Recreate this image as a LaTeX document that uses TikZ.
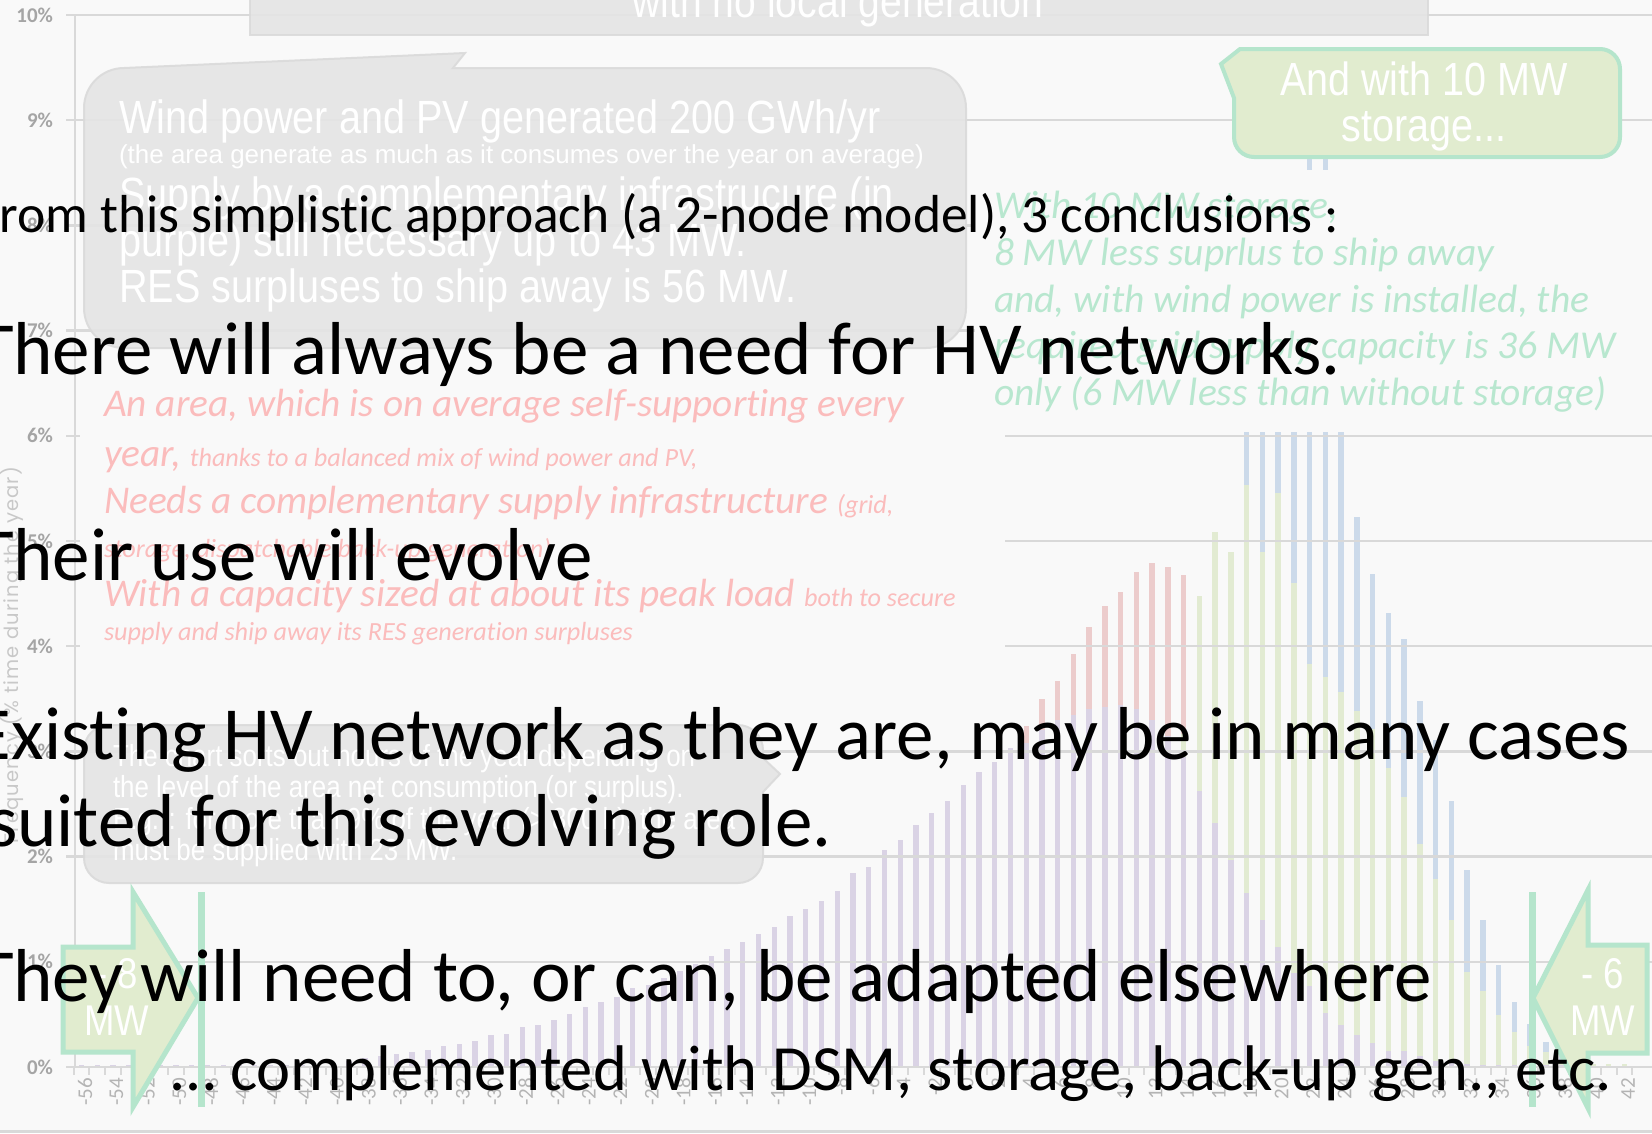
\documentclass[tikz,border=0pt]{standalone}
\usepackage{fontspec}
\setmainfont{Carlito}[Ligatures=NoCommon]
\newfontfamily\narrowf[FakeStretch=0.85]{Liberation Sans}
\newfontfamily\arialf{Liberation Sans}
\newfontfamily\popf[LetterSpace=6]{Poppins}
\definecolor{bgc}{RGB}{249,249,249}
\definecolor{gridc}{RGB}{217,217,217}
\definecolor{barP}{RGB}{218,211,229}
\definecolor{barR}{RGB}{236,204,204}
\definecolor{barG}{RGB}{226,235,210}
\definecolor{barB}{RGB}{204,218,234}
\definecolor{boxfill}{RGB}{229,229,229}
\definecolor{boxline}{RGB}{218,218,218}
\definecolor{mint}{RGB}{181,229,204}
\definecolor{lgreen}{RGB}{225,236,207}
\definecolor{redtxt}{RGB}{251,188,188}
\definecolor{grntxt}{RGB}{184,231,207}
\definecolor{ylabc}{RGB}{165,165,165}
\definecolor{xlabc}{RGB}{180,180,180}
\definecolor{titc}{RGB}{200,200,200}
\begin{document}
\begin{tikzpicture}[x=1pt,y=-1pt,
  every node/.style={inner sep=0pt,outer sep=0pt},
  bigtxt/.style={anchor=base west,text=black,font=\fontsize{75}{90}\selectfont},
  redl/.style={anchor=base west,text=redtxt,font=\itshape\fontsize{39.3}{46}\selectfont},
  grnl/.style={anchor=base west,text=grntxt,font=\itshape\fontsize{39.5}{46}\selectfont},
  whl/.style={anchor=base west,text=white,font=\narrowf\fontsize{46.6}{52}\selectfont},
  whs/.style={anchor=base west,text=white,font=\narrowf\fontsize{30.5}{34}\selectfont},
  graybox/.style={fill=boxfill,draw=boxline,line width=2pt,opacity=0.9},
  arrowbox/.style={fill=lgreen,draw=mint,line width=5pt,line join=miter},
  vline/.style={draw=mint,line width=7pt},
  ylab/.style={anchor=east,text=ylabc,font=\bfseries\fontsize{21}{22}\selectfont},
  xlab/.style={anchor=east,rotate=90,text=xlabc,font=\fontsize{21}{22}\selectfont},
  axisline/.style={draw=gridc,line width=2.5pt}]
\useasboundingbox (0,0) rectangle (1652,1133);
\fill[bgc] (0,0) rectangle (1652,1133);
% bars (back to front: blue, red, green, purple)
\foreach \v in {-56,...,-41}{
  \pgfmathsetmacro\xc{81.5+(\v+56)*15.745}
  \fill[barP] (\xc-2.7,1065) rectangle (\xc+2.7,1067);
}
\foreach \v/\p/\r/\g/\b in {
-40/0.04/0/0/0,-39/0.06/0/0/0,-38/0.09/0/0/0,-37/0.10/0/0/0,-36/0.12/0/0/0,
-35/0.14/0/0/0,-34/0.16/0/0/0,-33/0.20/0/0/0,-32/0.22/0/0/0,-31/0.25/0/0/0,
-30/0.30/0/0/0,-29/0.31/0/0/0,-28/0.38/0/0/0,-27/0.40/0/0/0,-26/0.45/0/0/0,
-25/0.50/0/0/0,-24/0.57/0/0/0,-23/0.62/0/0/0,-22/0.67/0/0/0,-21/0.75/0/0/0,
-20/0.78/0/0/0,-19/0.85/0/0/0,-18/0.91/0/0/0,-17/0.98/0/0/0,-16/1.06/0/0/0,
-15/1.12/0/0/0,-14/1.19/0/0/0,-13/1.26/0/0/0,-12/1.33/0/0/0,-11/1.44/0/0/0,
-10/1.50/0/0/0,-9/1.58/0/0/0,-8/1.67/0/0/0,-7/1.84/0/0/0,-6/1.90/0/0/0,
-5/2.06/0/0/0,-4/2.16/0/0/0,-3/2.30/0/0/0,-2/2.41/0/0/0,-1/2.53/0/0/0,
0/2.68/0/0/0,1/2.80/0/0/0,2/2.90/0/0/0,3/3.03/0/0/0,
4/3.08/3.24/0/0,5/3.20/3.50/0/0,6/3.30/3.67/0/0,7/3.35/3.93/0/0,8/3.40/4.18/0/0,
9/3.42/4.38/0/0,10/3.44/4.52/0/0,11/3.40/4.71/0/0,12/3.30/4.79/0/0,13/3.15/4.75/0/0,
14/2.95/4.68/3.17/0,15/2.62/0/4.48/0,16/2.32/0/5.09/0,17/1.97/0/4.90/0,
18/1.65/0/5.53/7.2,19/1.40/0/4.90/7.6,20/1.14/0/5.46/7.9,21/0.89/0/4.60/8.2,
22/0.77/0/3.83/8.8,23/0.51/0/3.71/8.7,24/0.40/0/3.56/7.0,25/0.30/0/3.38/5.23,
26/0.23/0/3.21/4.69,27/0.15/0/2.84/4.32,28/0.15/0/2.57/4.07,29/0.10/0/2.12/3.48,
30/0.06/0/1.79/3.11,31/0.04/0/1.40/2.53,32/0.03/0/0.90/1.87,33/0.02/0/0.72/1.40,
34/0.02/0/0.49/0.97,35/0.02/0/0.33/0.62,36/0.02/0/0.20/0.41,37/0.02/0/0.14/0.24,
38/0.02/0/0.06/0.10,39/0/0/0.03/0,40/0/0/0.03/0,41/0/0/0.03/0,42/0/0/0.03/0}{
  \pgfmathsetmacro\xc{81.5+(\v+56)*15.745}
  \fill[barB] (\xc-2.7,{1067-105.2*\b}) rectangle (\xc+2.7,1067);
  \fill[barR] (\xc-2.7,{1067-105.2*\r}) rectangle (\xc+2.7,1067);
  \fill[barG] (\xc-2.7,{1067-105.2*\g}) rectangle (\xc+2.7,1067);
  \fill[barP] (\xc-2.7,{1067-105.2*\p}) rectangle (\xc+2.7,1067);
}
% grid, axes, ticks, labels
\foreach \k in {0,...,10}{
  \draw[axisline] (75,{1067-105.2*\k}) -- (1652,{1067-105.2*\k});
  \draw[axisline] (66,{1067-105.2*\k}) -- (75,{1067-105.2*\k});
  \node[ylab] (yl\k) at (53,{1067-105.2*\k}) {\k\%};
}
\draw[axisline] (75,15) -- (75,1067);
\foreach \k in {0,...,99}{
  \draw[axisline,line width=2pt] ({73.6+\k*15.745},1067) -- ++(0,8);
}
\foreach \v in {-56,-54,...,42}{
  \node[xlab] (xl\v) at ({85+(\v+56)*15.745},1078) {\v};
}
\draw[axisline,line width=3pt] (0,1131) -- (1652,1131);
\node[rotate=90,text=titc,font=\popf\fontsize{19.5}{21}\selectfont] (ytitle) at (12,655) {Frequency (\% time during the year)};
% covers behind the coloured texts
\fill[bgc] (80,375) rectangle (1005,660);
\fill[bgc] (975,170) rectangle (1652,431.5);
% gray boxes
\fill[graybox] (250,-5) rectangle (1428,35);
\path[graybox] (124,68) -- (465,53) -- (453,68) -- (926,68)
  arc[start angle=-90,end angle=0,radius=40] -- (966,308)
  arc[start angle=0,end angle=90,radius=40] -- (124,348)
  arc[start angle=90,end angle=180,radius=40] -- (84,108)
  arc[start angle=180,end angle=270,radius=40] -- cycle;
\path[graybox] (109,725) -- (738,725)
  arc[start angle=-90,end angle=0,radius=25] -- (763,758) -- (780,774) -- (763,792) -- (763,858)
  arc[start angle=0,end angle=90,radius=25] -- (109,883)
  arc[start angle=90,end angle=180,radius=25] -- (84,750)
  arc[start angle=180,end angle=270,radius=25] -- cycle;
% green callout
\path[fill=lgreen,draw=mint,line width=4pt] (1254,49) -- (1600,49)
  arc[start angle=-90,end angle=0,radius=20] -- (1620,137)
  arc[start angle=0,end angle=90,radius=20] -- (1254,157)
  arc[start angle=90,end angle=180,radius=20] -- (1234,98) -- (1221,64) -- (1240,49) -- cycle;
% texts in gray boxes
\node[anchor=base,text=white,font=\narrowf\fontsize{46}{50}\selectfont] (nolocal) at (838,17) {with no local generation};
\node[whl] (w1) at (119,133) {Wind power and PV generated 200 GWh/yr};
\node[anchor=base west,text=white,font=\arialf\fontsize{26}{30}\selectfont] (w2) at (119,163) {(the area generate as much as it consumes over the year on average)};
\node[whl] (w3) at (119,210) {Supply by a complementary infrastrucure (in};
\node[whl] (w4) at (119,256) {purple) still necessary up to 43 MW.};
\node[whl] (w5) at (119,302) {RES surpluses to ship away is 56 MW.};
\node[whs] (c1) at (113,766) {The chart sorts out hours of the year depending on};
\node[whs] (c2) at (113,797) {the level of the area net consumption (or surplus).};
\node[whs] (c3) at (113,829) {E.g. : for more than 9\% of the year (> 800 h), the area};
\node[whs] (c4) at (113,860) {must be supplied with 23 MW.};
\node[anchor=base,text=white,font=\narrowf\fontsize{46.5}{50}\selectfont] (g1) at (1424,95) {And with 10 MW};
\node[anchor=base,text=white,font=\narrowf\fontsize{46.5}{50}\selectfont] (g2) at (1424,141) {storage...};
% red text
\node[redl] (r1) at (104,416) {An area, which is on average self-supporting every};
\node[redl] (r2) at (104,466) {year, {\fontsize{26.2}{30}\selectfont thanks to a balanced mix of wind power and PV,}};
\node[redl] (r3) at (104,513) {Needs a complementary supply infrastructure {\fontsize{26.2}{30}\selectfont (grid,}};
\node[redl,font=\itshape\fontsize{26.2}{30}\selectfont] (r4) at (104,557) {storage, dispatchable back-up generation)};
\node[redl] (r5) at (104,606) {With a capacity sized at about its peak load {\fontsize{26.2}{30}\selectfont both to secure}};
\node[redl,font=\itshape\fontsize{26.2}{30}\selectfont] (r6) at (104,640) {supply and ship away its RES generation surpluses};
% green text
\node[grnl] (s1) at (994,218) {With 10 MW storage,};
\node[grnl] (s2) at (994,265) {8 MW less suprlus to ship away};
\node[grnl] (s3) at (994,312) {and, with wind power is installed, the};
\node[grnl] (s4) at (994,358) {required grid supply capacity is 36 MW};
\node[grnl] (s5) at (994,405) {only (6 MW less than without storage)};
% block arrows and lines
\path[arrowbox] (63,947) -- (133,947) -- (133,892) -- (198,998) -- (133,1107) -- (133,1052) -- (63,1052) -- cycle;
\path[arrowbox] (1647,945) -- (1588,945) -- (1588,890) -- (1533,998) -- (1588,1108) -- (1588,1053) -- (1647,1053) -- cycle;
\coordinate (la) at (201,892); \coordinate (lb) at (201,1107);
\coordinate (ra) at (1532,892); \coordinate (rb) at (1532,1107);
\draw[vline] (la) -- (lb);
\draw[vline] (ra) -- (rb);
\node[anchor=base,text=white,font=\narrowf\fontsize{43}{47}\selectfont] (a1) at (117,988) {- 8};
\node[anchor=base,text=white,font=\narrowf\fontsize{43}{47}\selectfont] (a2) at (117,1035) {MW};
\node[anchor=base,text=white,font=\narrowf\fontsize{43}{47}\selectfont] (a3) at (1603,988) {- 6};
\node[anchor=base,text=white,font=\narrowf\fontsize{43}{47}\selectfont] (a4) at (1603,1035) {MW};
% black text
\node[bigtxt,font=\fontsize{53.5}{64}\selectfont] (b0) at (-25,232) {From this simplistic approach (a 2-node model), 3 conclusions :};
\node[bigtxt] (b1) at (-23,374) {There will always be a need for HV networks.};
\node[bigtxt] (b2) at (-23,580) {Their use will evolve};
\node[bigtxt] (b3) at (-25,759) {Existing HV network as they are, may be in many cases};
\node[bigtxt] (b4) at (-12,846) {suited for this evolving role.};
\node[bigtxt] (b5) at (-23,1001) {They will need to, or can, be adapted elsewhere};
\node[bigtxt,font=\fontsize{64.5}{77}\selectfont] (b6) at (171,1090) {… complemented with DSM, storage, back-up gen., etc.};
\end{tikzpicture}
\end{document}
